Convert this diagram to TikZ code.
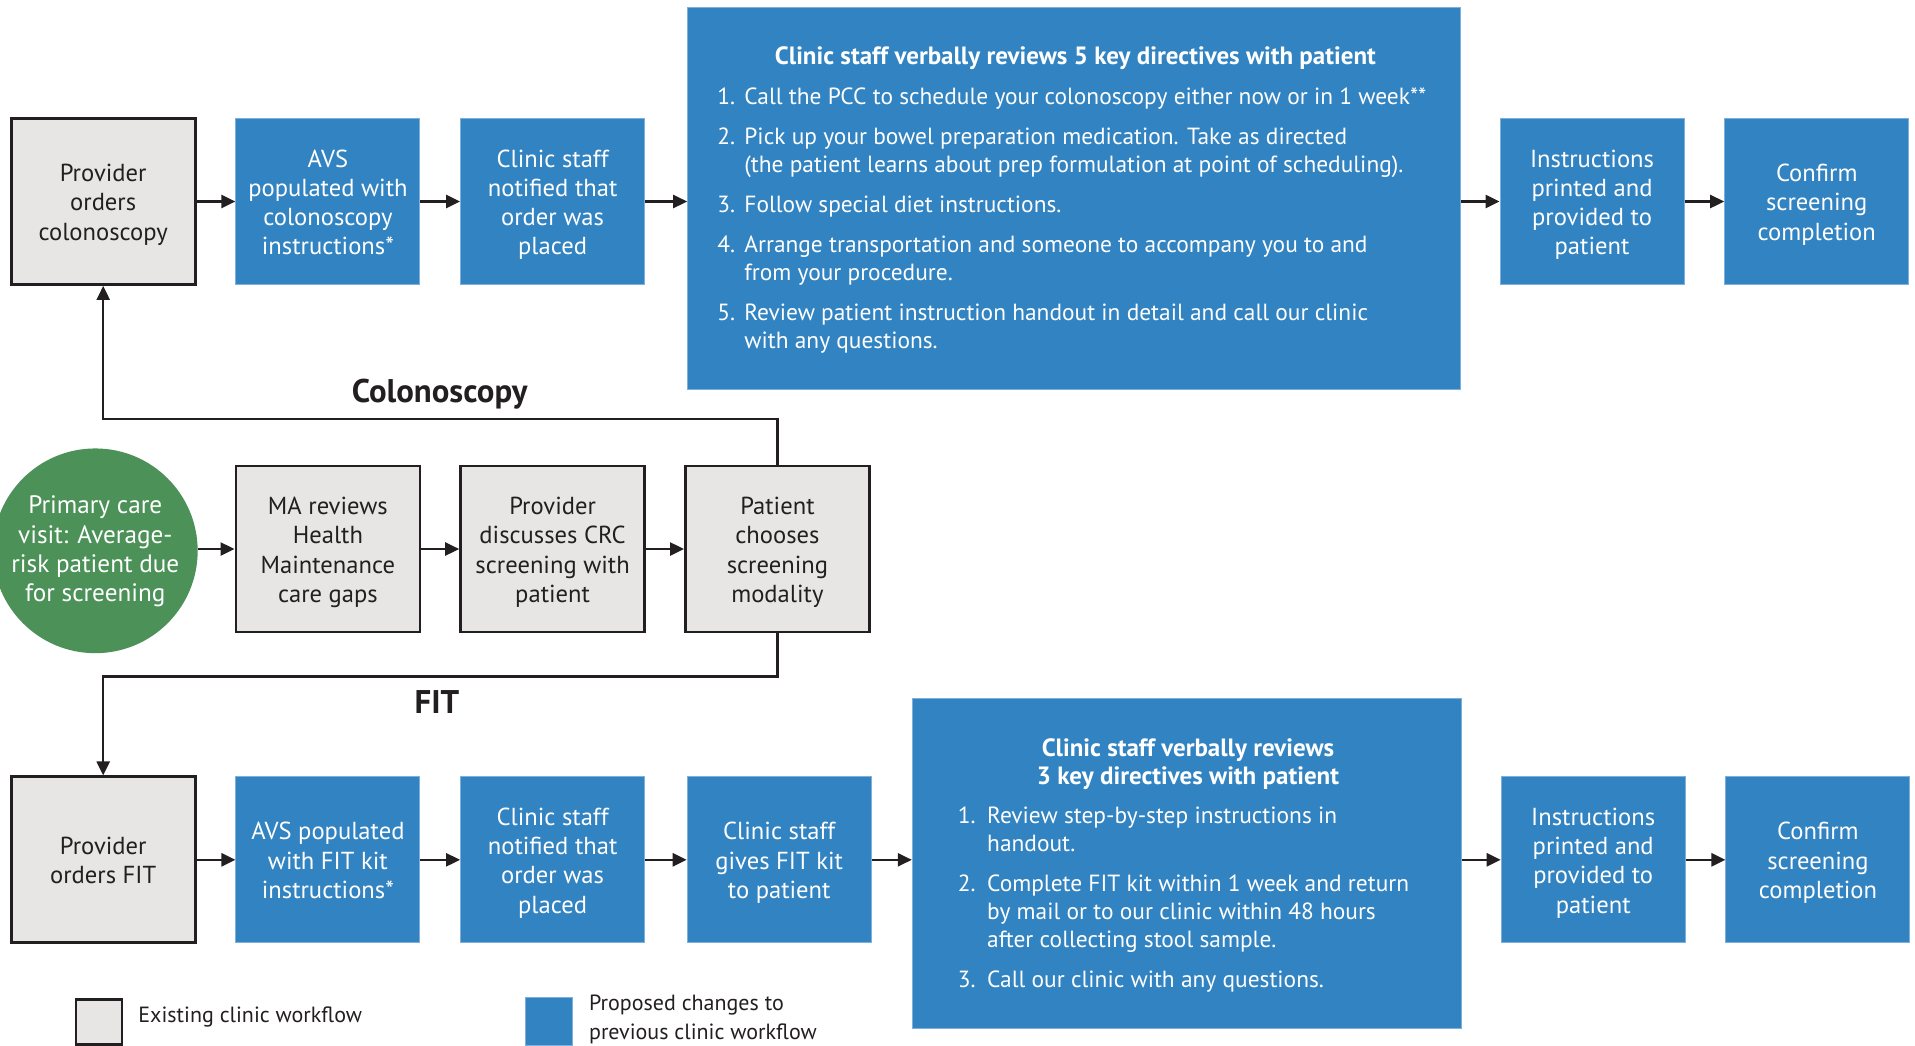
\documentclass[tikz,border=0pt]{standalone}
\usepackage{fontspec}
\setmainfont{PT Sans}
\usetikzlibrary{arrows.meta,calc}
\definecolor{pblue}{HTML}{3283C1}
\definecolor{pbord}{HTML}{7FB0DC}
\definecolor{pgray}{HTML}{E7E6E5}
\definecolor{pgreen}{HTML}{4B9158}
\definecolor{ink}{HTML}{231F20}
\newcommand{\leftlines}[1]{\begin{tabular}[t]{@{}l@{}}#1\end{tabular}}
\newcommand{\midlines}[1]{\begin{tabular}[t]{@{}c@{}}#1\end{tabular}}
\newcommand{\bt}[1]{\raisebox{-1.8pt}[\height][\depth]{\begin{tabular}{@{}c@{}}#1\end{tabular}}}
\begin{document}
\begin{tikzpicture}[x=0.5pt,y=-0.5pt,
  boxtext/.style={font=\fontsize{12.3}{14.65}\selectfont, inner sep=0pt},
  oldbox/.style={boxtext, draw=ink, line width=1.4pt, fill=pgray, text=ink, minimum width=92pt, minimum height=83pt},
  newbox/.style={boxtext, draw=pbord, line width=0.5pt, fill=pblue, text=white, minimum width=92pt, minimum height=83pt},
  bigbox/.style={draw=pbord, line width=0.5pt, fill=pblue, inner sep=0pt},
  listtext/.style={font=\fontsize{11.7}{14}\selectfont, text=white, inner sep=0pt, anchor=base west},
  titletext/.style={font=\fontsize{12.5}{14}\selectfont\bfseries, text=white, inner sep=0pt, anchor=base},
  pathlabel/.style={font=\fontsize{16.4}{19}\selectfont\bfseries, text=ink, inner sep=0pt},
  legtext/.style={font=\fontsize{11}{14.5}\selectfont, text=ink, align=left, inner sep=0pt, anchor=west},
  arr/.style={draw=ink, line width=1.25pt, -{Triangle[length=7pt,width=6.5pt]}},
  conn/.style={draw=ink, line width=1.25pt}
]
\useasboundingbox (0,0) rectangle (1915,1045);

% ---------- top row (colonoscopy) ----------
\node[oldbox] (pcol) at (103.2,201.5) {\bt{Provider\\orders\\colonoscopy}};
\node[newbox] (avs1) at (327.9,201.5) {\bt{AVS\\populated with\\colonoscopy\\instructions*}};
\node[newbox] (not1) at (552.6,201.5) {\bt{Clinic staff\\notified that\\order was\\placed}};
\node[bigbox, minimum width=386.5pt, minimum height=191.2pt] (big1) at (1074.2,198.5) {};
\node[newbox] (ins1) at (1592,201.5) {\bt{Instructions\\printed and\\provided to\\patient}};
\node[newbox] (con1) at (1816.7,201.5) {\bt{Confirm\\screening\\completion}};

\node[titletext] (t1) at (1075.4,64.5) {Clinic staff verbally reviews 5 key directives with patient};
\node[listtext] (a1n) at (717,104) {1.};
\node[listtext] (a1) at (744,104) {Call the PCC to schedule your colonoscopy either now or in 1 week**};
\node[listtext] (a2n) at (717,144) {2.};
\node[listtext] (a2) at (744,144) {\leftlines{Pick up your bowel preparation medication. Take as directed\\(the patient learns about prep formulation at point of scheduling).}};
\node[listtext] (a3n) at (717,212) {3.};
\node[listtext] (a3) at (744,212) {Follow special diet instructions.};
\node[listtext] (a4n) at (717,252.5) {4.};
\node[listtext] (a4) at (744,252.5) {\leftlines{Arrange transportation and someone to accompany you to and\\from your procedure.}};
\node[listtext] (a5n) at (717,320) {5.};
\node[listtext] (a5) at (744,320) {\leftlines{Review patient instruction handout in detail and call our clinic\\with any questions.}};

% ---------- middle row ----------
\node[circle, fill=pgreen, minimum size=101pt, inner sep=0pt, text=white, font=\fontsize{12.6}{14.65}\selectfont] (pcv) at (95.3,550.8) {\raisebox{-0.6pt}[\height][\depth]{\begin{tabular}{@{}c@{}}Primary care\\visit: Average-\\risk patient due\\for screening\end{tabular}}};
\node[oldbox] (ma) at (327.9,549) {\bt{MA reviews\\Health\\Maintenance\\care gaps}};
\node[oldbox] (disc) at (552.6,549) {\bt{Provider\\discusses CRC\\screening with\\patient}};
\node[oldbox] (choose) at (777.4,549) {\bt{Patient\\chooses\\screening\\modality}};

% ---------- bottom row (FIT) ----------
\node[oldbox] (pfit) at (103.2,859.8) {\bt{Provider\\orders FIT}};
\node[newbox] (avs2) at (327.9,859.8) {\bt{AVS populated\\with FIT kit\\instructions*}};
\node[newbox] (not2) at (552.6,859.8) {\bt{Clinic staff\\notified that\\order was\\placed}};
\node[newbox] (give) at (779.2,859.8) {\bt{Clinic staff\\gives FIT kit\\to patient}};
\node[bigbox, minimum width=274.8pt, minimum height=164.9pt] (big2) at (1187.1,863.5) {};
\node[newbox] (ins2) at (1593.2,859.8) {\bt{Instructions\\printed and\\provided to\\patient}};
\node[newbox] (con2) at (1817.9,859.8) {\bt{Confirm\\screening\\completion}};

\node[titletext] (t2) at (1188,756) {\midlines{Clinic staff verbally reviews\\3 key directives with patient}};
\node[listtext] (b1n) at (957.5,823) {1.};
\node[listtext] (b1) at (986.8,823) {\leftlines{Review step-by-step instructions in\\handout.}};
\node[listtext] (b2n) at (957.5,891) {2.};
\node[listtext] (b2) at (986.8,891) {\leftlines{Complete FIT kit within 1 week and return\\by mail or to our clinic within 48 hours\\after collecting stool sample.}};
\node[listtext] (b3n) at (957.5,987) {3.};
\node[listtext] (b3) at (986.8,987) {Call our clinic with any questions.};

% ---------- connectors ----------
\draw[arr] (pcol.east) -- (avs1.west);
\draw[arr] (avs1.east) -- (not1.west);
\draw[arr] (not1.east) -- (not1.east -| big1.west);
\draw[arr] (ins1.west -| big1.east) -- (ins1.west);
\draw[arr] (ins1.east) -- (con1.west);

\draw[arr] (ma.west -| pcv.east) -- (ma.west);
\draw[arr] (ma.east) -- (disc.west);
\draw[arr] (disc.east) -- (choose.west);

\draw[arr] (pfit.east) -- (avs2.west);
\draw[arr] (avs2.east) -- (not2.west);
\draw[arr] (not2.east) -- (give.west);
\draw[arr] (give.east) -- (give.east -| big2.west);
\draw[arr] (ins2.west -| big2.east) -- (ins2.west);
\draw[arr] (ins2.east) -- (con2.west);

\coordinate (colY) at (0,418.9);
\coordinate (fitY) at (0,676.6);
\draw[arr] (choose.north) -- (choose.north |- colY) -| (pcol.south);
\draw[arr] (choose.south) -- (choose.south |- fitY) -| (pfit.north);
\node[pathlabel] (lcol) at (439.7,394.5) {Colonoscopy};
\node[pathlabel] (lfit) at (437,702) {FIT};

% ---------- legend ----------
\node[draw=ink, line width=1.4pt, fill=pgray, minimum width=23pt, minimum height=22.5pt, inner sep=0pt] (lg1) at (99,1022) {};
\node[legtext] (lt1) at (138,1017) {Existing clinic workflow};
\node[draw=pbord, line width=0.5pt, fill=pblue, minimum width=23.9pt, minimum height=23.6pt, inner sep=0pt] (lg2) at (548.9,1021.4) {};
\node[legtext] (lt2) at (588.7,1019.7) {Proposed changes to\\previous clinic workflow};
\end{tikzpicture}
\end{document}
